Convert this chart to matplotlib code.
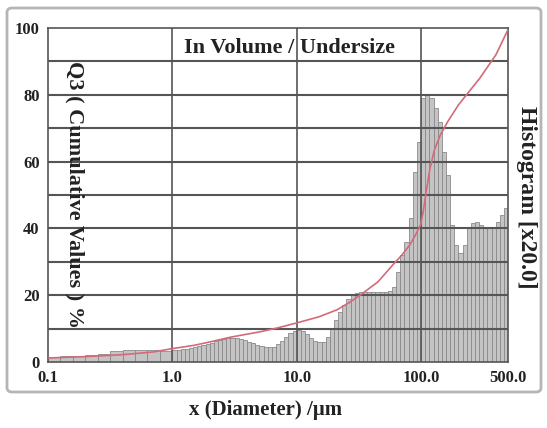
import numpy as np
import matplotlib.pyplot as plt
from matplotlib.patches import FancyBboxPatch

# Histogram bins: coarse below 1 um, 30 per decade above
edges_fine = np.geomspace(0.1, 1.0, 11)
edges_coarse = 10 ** (np.arange(0, 82) / 30.0)
edges = np.concatenate([edges_fine[:-1], edges_coarse])

# bar heights (already scaled x20, read on the 0-100 axis)
hist_low = [1.6, 1.7, 1.8, 2.0, 2.4, 3.2, 3.6, 3.6, 3.5, 3.4]
hist_high = [3.5, 3.6, 3.8, 4.0, 4.2, 4.5, 4.8, 5.1, 5.5, 5.8,
             6.2, 6.6, 6.9, 7.1, 7.2, 7.2, 7.0, 6.6, 6.1, 5.6,
             5.1, 4.7, 4.5, 4.4, 4.6, 5.3, 6.4, 7.6, 8.7, 9.4,
             9.6, 9.2, 8.3, 7.2, 6.3, 5.9, 6.1, 7.5, 9.8, 12.5,
             15.0, 17.2, 19.0, 20.2, 20.8, 21.0, 21.0, 21.0, 21.0, 21.0,
             21.0, 21.0, 21.2, 22.5, 27.0, 32.0, 36.0, 43.0, 57.0, 66.0,
             79.0, 80.0, 79.0, 76.0, 72.0, 63.0, 56.0, 41.0, 35.0, 32.5,
             35.0, 40.0, 41.5, 42.0, 41.0, 40.0, 40.0, 40.5, 42.0, 44.0,
             46.0]
hist = hist_low + hist_high

# cumulative Q3 curve
cum_x = [0.1, 0.2, 0.4, 0.7, 1.0, 1.5, 2.0, 3.0, 5.0, 7.0, 10, 15, 21, 27,
         34, 45, 59, 70, 81, 90, 99, 104, 110, 118, 128, 143, 164, 200,
         297, 400, 500]
cum_y = [1.2, 1.6, 2.2, 3.0, 4.0, 5.0, 6.0, 7.5, 9.0, 10.2, 11.7, 13.5, 15.6,
         18, 20.6, 24, 29, 32, 35, 38, 41, 45, 51, 58, 63.5, 68, 72, 77,
         85, 92, 99.5]

xticks = [0.1, 1, 10, 100, 500]
xtick_labels = ['0.1', '1.0', '10.0', '100.0', '500.0']

serif = ['Liberation Serif', 'DejaVu Serif']

fig = plt.figure(figsize=(5.47, 4.28), dpi=100)
ax = fig.add_axes([48 / 547, 66 / 428, 460 / 547, 334 / 428])

# outer rounded frame
frame = FancyBboxPatch((7 / 547, 36 / 428), 534 / 547, 384 / 428,
                       boxstyle='round,pad=0,rounding_size=0.01',
                       transform=fig.transFigure, fill=False,
                       edgecolor='#b5b5b5', linewidth=2, zorder=0)
fig.patches.append(frame)

ax.set_xscale('log')
ax.set_xlim(0.1, 500)
ax.set_ylim(0, 100)

widths = np.diff(edges)
ax.bar(edges[:-1], hist, width=widths, align='edge', color='#c4c4c4',
       edgecolor='#8a8a8a', linewidth=0.6, zorder=2)

for yv in range(10, 100, 10):
    ax.axhline(yv, color='#555555', lw=1.5, zorder=3)
for xv in [1, 10, 100]:
    ax.axvline(xv, color='#555555', lw=1.2, zorder=3)

ax.plot(cum_x, cum_y, color='#d46a78', lw=1.2, zorder=4)

ax.set_xticks(xticks)
ax.set_xticklabels(xtick_labels)
ax.xaxis.set_minor_locator(plt.NullLocator())
ax.set_yticks(range(0, 101, 20))
ax.tick_params(length=0, pad=6)
for lab in ax.get_xticklabels() + ax.get_yticklabels():
    lab.set_family(serif)
    lab.set_fontweight('bold')
    lab.set_fontsize(12)
    lab.set_color('#222222')

for s in ax.spines.values():
    s.set_color('#555555')
    s.set_linewidth(1.2)

ax.text(0.525, 0.94, 'In Volume / Undersize', transform=ax.transAxes,
        ha='center', va='center', family=serif, fontweight='bold',
        fontsize=16, color='#222222', zorder=5)
ax.text(0.057, 0.5, 'Q3 ( Cumulative Values ) %', transform=ax.transAxes,
        ha='center', va='center', rotation=-90, family=serif,
        fontweight='bold', fontsize=16, color='#222222', zorder=5)
fig.text(526 / 547, 1 - 197 / 428, 'Histogram [x20.0]', ha='center',
         va='center', rotation=-90, family=serif, fontweight='bold',
         fontsize=17, color='#222222')
fig.text(266 / 547, 1 - 410 / 428, 'x (Diameter) /\u00b5m', ha='center',
         va='center', family=serif, fontweight='bold', fontsize=15,
         color='#222222')

fig.savefig('out.png', dpi=100)
